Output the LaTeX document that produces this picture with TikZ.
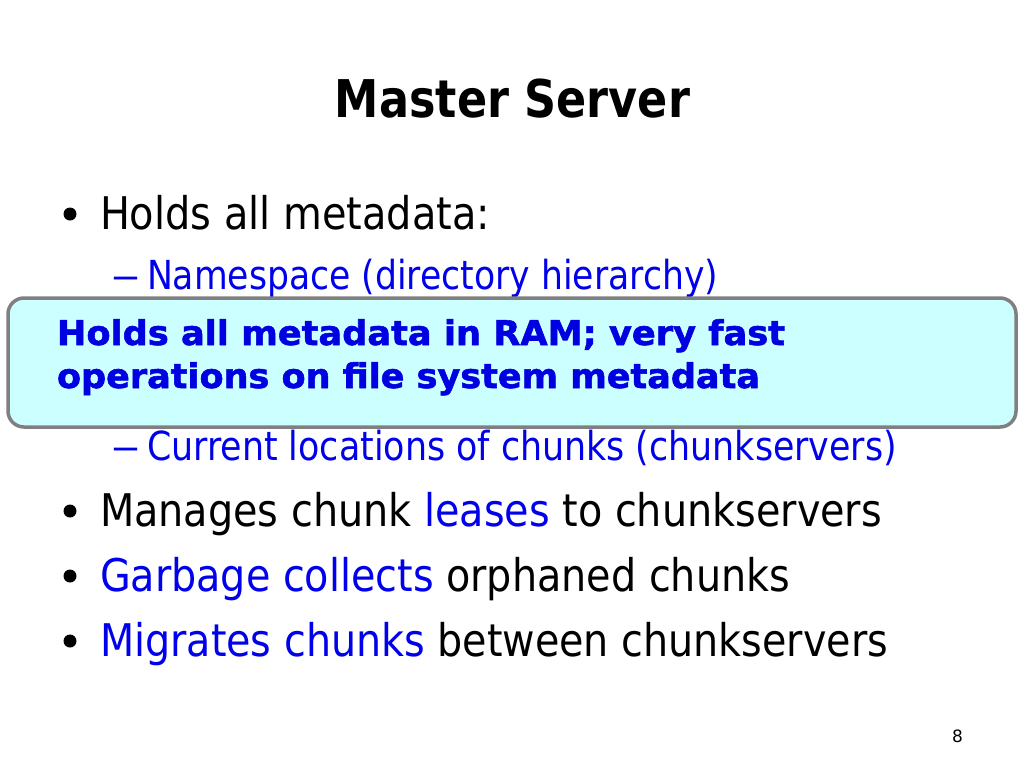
\documentclass[tikz,border=0pt]{standalone}
\usepackage{fontspec}
\setmainfont{DejaVu Sans}
\newfontfamily\heavyfont{DejaVu Sans}[BoldFeatures={FakeBold=1.6}]
\usepackage{graphicx}
\definecolor{txtblue}{RGB}{0,0,235}
\definecolor{boxblue}{RGB}{0,0,225}
\definecolor{boxfill}{RGB}{204,255,255}
\definecolor{boxline}{RGB}{128,128,128}
\newcommand{\fitw}[2]{\resizebox{#1}{\height}{#2}}
\begin{document}
\begin{tikzpicture}[x=1pt,y=-1pt,
  txt/.style={inner sep=0pt, outer sep=0pt, anchor=base west},
  lvlone/.style={txt, font=\fontsize{45}{54}\selectfont},
  lvltwo/.style={txt, font=\fontsize{40}{48}\selectfont, text=txtblue},
  boxtxt/.style={txt, font=\heavyfont\fontsize{34}{40}\selectfont\bfseries, text=boxblue},
  bul/.style={circle, fill=black, inner sep=0pt, minimum size=13pt},
  callout/.style={draw=boxline, line width=3.5pt, fill=boxfill, rounded corners=16pt,
    minimum width=1008pt, minimum height=129pt, inner sep=0pt}]
\useasboundingbox (0,0) rectangle (1024,768);
\fill[white] (0,0) rectangle (1024,768);
% title
\node[txt, anchor=base] (title) at (512.5,117) {\fontsize{52}{60}\selectfont\bfseries\fitw{355pt}{Master Server}};
% bullet 1
\node[bul] (b1) at (70,214) {};
\node[lvlone] (t1) at (100,229) {\fitw{390pt}{Holds all metadata:}};
% sub 1
\node[lvltwo] (d1) at (111,289) {\fitw{29pt}{–}};
\node[lvltwo] (s1) at (147,289) {\fitw{571pt}{Namespace (directory hierarchy)}};
% callout box
\node[callout] (box) at (512,362.5) {};
\node[boxtxt] (bx1) at (57,345) {\fitw{728pt}{Holds all metadata in RAM; very fast}};
\node[boxtxt] (bx2) at (57,388) {\fitw{703pt}{operations on file system metadata}};
% sub 2
\node[lvltwo] (d2) at (111,460) {\fitw{29pt}{–}};
\node[lvltwo] (s2) at (147,460) {\fitw{750pt}{Current locations of chunks (chunkservers)}};
% bullets
\node[bul] (b2) at (70,511) {};
\node[lvlone] (t2) at (100,526) {\fitw{782pt}{Manages chunk \textcolor{txtblue}{leases} to chunkservers}};
\node[bul] (b3) at (70,576) {};
\node[lvlone] (t3) at (100,591) {\fitw{690pt}{\textcolor{txtblue}{Garbage collects} orphaned chunks}};
\node[bul] (b4) at (70,641) {};
\node[lvlone] (t4) at (100,656) {\fitw{788pt}{\textcolor{txtblue}{Migrates chunks} between chunkservers}};
% page number
\node[txt, font=\fontsize{17}{20}\selectfont] (pg) at (952,742) {8};
\end{tikzpicture}
\end{document}
